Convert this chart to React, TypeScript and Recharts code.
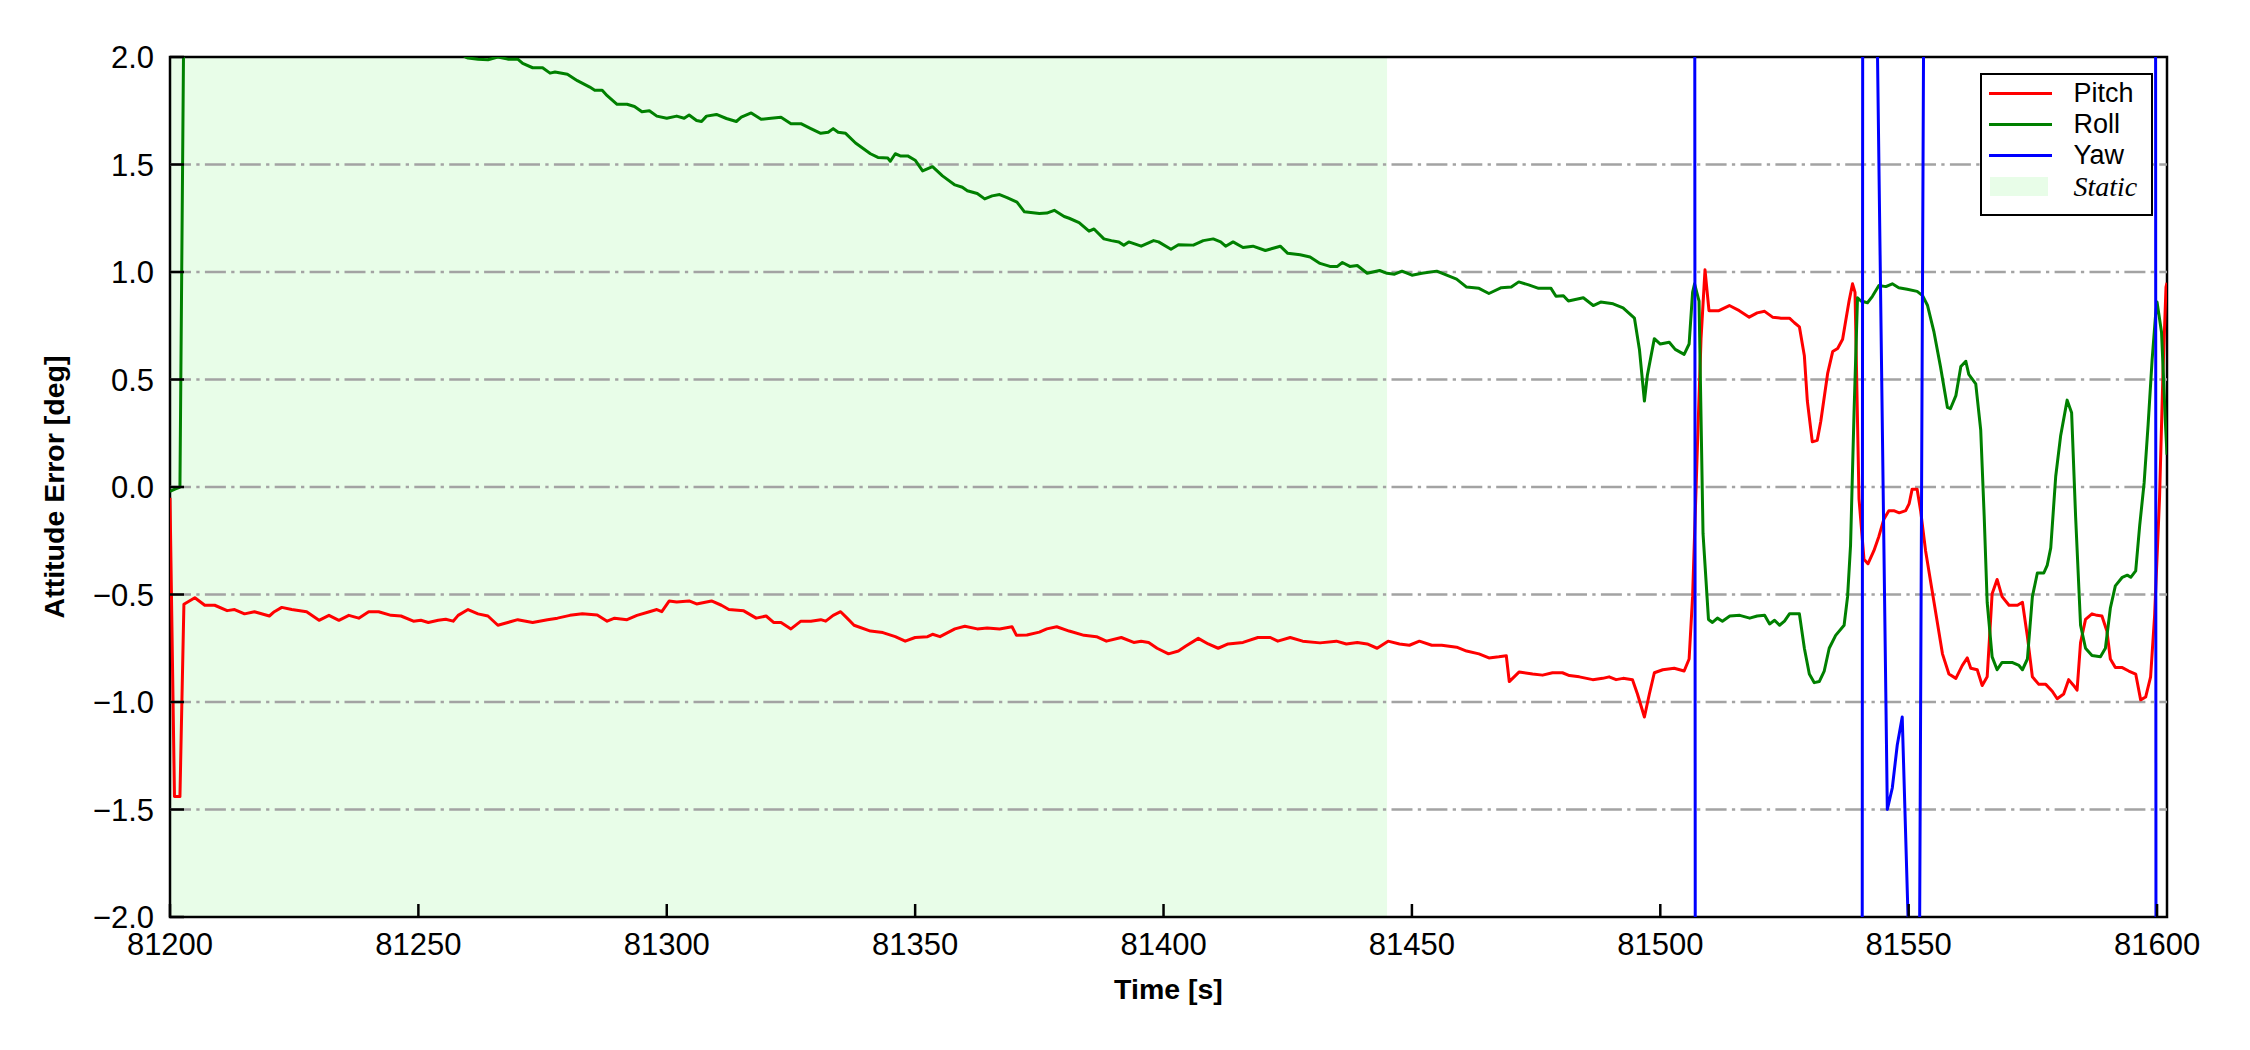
import React from "react";
import {
  LineChart,
  Line,
  XAxis,
  YAxis,
  ReferenceArea,
  Legend,
  Label,
} from "recharts";

// axis ticks and the static window
const timeTicks = [81200, 81250, 81300, 81350, 81400, 81450, 81500, 81550, 81600];
const errorTicks = [-2, -1.5, -1, -0.5, 0, 0.5, 1, 1.5, 2];
const gridLevels = [-1.5, -1, -0.5, 0, 0.5, 1, 1.5];
const timeRange = [81200, 81602];
const staticStart = 81200;
const staticEnd = 81445;

// Pitch error [deg]
const pitchT = [
  81200, 81200.9, 81202, 81202.8, 81205, 81207, 81209, 81211.5, 81213, 81215,
  81217, 81220, 81221, 81222.5, 81224.5, 81227.5, 81230, 81232, 81234, 81236,
  81238, 81240, 81242, 81244.5, 81246.5, 81249, 81250.5, 81252, 81254, 81255.5,
  81257, 81258, 81260, 81262, 81264, 81266, 81268, 81270, 81273, 81276,
  81278, 81280.5, 81283, 81286, 81288, 81289.5, 81292, 81294, 81296.5, 81298,
  81299, 81300.5, 81302, 81304.5, 81306, 81309, 81311, 81312.5, 81315.5, 81318,
  81320, 81321.5, 81323, 81325, 81327, 81329, 81331, 81332, 81333.5, 81335,
  81336.3, 81337.7, 81341, 81343.5, 81346, 81348, 81350, 81352.5, 81353.5, 81355,
  81358, 81360, 81362.5, 81364.5, 81367, 81369.5, 81370.4, 81372.5, 81375, 81376.5,
  81378.5, 81381, 81384, 81386.5, 81388.5, 81391.5, 81394, 81395.5, 81397, 81398.7,
  81401, 81403, 81404.5, 81407, 81409, 81411, 81413, 81416, 81419, 81421.5,
  81423, 81425.5, 81428, 81431.5, 81434.8, 81436.8, 81439, 81441, 81443, 81445.2,
  81447.5, 81449.5, 81451.5, 81454, 81456, 81459, 81461, 81463.5, 81465.5, 81467.5,
  81469, 81469.6, 81471.6, 81474.3, 81476.3, 81478.3, 81480.3, 81481.7, 81483.7, 81486.4,
  81488.4, 81489.7, 81491.1, 81492.5, 81494.4, 81495.4, 81496.8, 81497.8, 81498.8, 81500.5,
  81502.8, 81504.8, 81505.8, 81506.5, 81507.5, 81508.2, 81509, 81509.8, 81511.8, 81513.9,
  81515.9, 81517.9, 81519.5, 81521, 81522.6, 81524.3, 81526, 81527, 81528, 81529,
  81529.6, 81530.6, 81531.6, 81532.3, 81533.7, 81534.7, 81535.7, 81536.7, 81537.3, 81538,
  81538.7, 81539.2, 81540, 81541, 81541.8, 81543, 81544, 81545, 81546, 81547,
  81548.1, 81549.4, 81550.1, 81550.7, 81551.7, 81552.4, 81553.4, 81555.1, 81556.8, 81558.1,
  81559.5, 81560.8, 81561.8, 81562.5, 81563.8, 81564.8, 81565.8, 81566.8, 81567.8, 81568.8,
  81570.2, 81571.9, 81572.9, 81573.9, 81574.9, 81576.2, 81577.6, 81578.9, 81579.9, 81581.2,
  81582.2, 81583.2, 81583.9, 81584.6, 81585.6, 81586.9, 81587.9, 81588.9, 81589.9, 81590.6,
  81591.6, 81593, 81594.3, 81595.7, 81596.7, 81597.7, 81598.7, 81599.5, 81600.5, 81601.2,
  81601.8, 81602,
];
const pitchV = [
  -0.05, -1.44, -1.44, -0.545, -0.515, -0.55, -0.55, -0.575, -0.57, -0.59,
  -0.58, -0.6, -0.58, -0.56, -0.57, -0.58, -0.62, -0.597, -0.62, -0.597,
  -0.61, -0.58, -0.58, -0.597, -0.6, -0.624, -0.62, -0.63, -0.62, -0.615,
  -0.624, -0.597, -0.57, -0.59, -0.6, -0.643, -0.63, -0.617, -0.63, -0.617,
  -0.61, -0.597, -0.59, -0.595, -0.624, -0.61, -0.617, -0.597, -0.58, -0.57,
  -0.58, -0.53, -0.535, -0.53, -0.544, -0.53, -0.55, -0.57, -0.576, -0.61,
  -0.6, -0.63, -0.63, -0.66, -0.624, -0.624, -0.617, -0.624, -0.597, -0.58,
  -0.61, -0.643, -0.67, -0.677, -0.696, -0.717, -0.7, -0.696, -0.685, -0.696,
  -0.66, -0.648, -0.66, -0.656, -0.66, -0.65, -0.69, -0.688, -0.675, -0.66,
  -0.65, -0.67, -0.69, -0.696, -0.717, -0.7, -0.723, -0.717, -0.723, -0.75,
  -0.776, -0.763, -0.74, -0.704, -0.73, -0.75, -0.73, -0.723, -0.7, -0.7,
  -0.717, -0.7, -0.717, -0.725, -0.717, -0.73, -0.723, -0.73, -0.75, -0.717,
  -0.73, -0.736, -0.717, -0.736, -0.736, -0.745, -0.763, -0.776, -0.795, -0.79,
  -0.785, -0.905, -0.86, -0.87, -0.875, -0.864, -0.864, -0.877, -0.883, -0.896,
  -0.89, -0.883, -0.896, -0.89, -0.896, -0.963, -1.07, -0.963, -0.864, -0.85,
  -0.843, -0.856, -0.8, -0.51, 0.21, 0.69, 1.01, 0.82, 0.82, 0.844,
  0.82, 0.79, 0.81, 0.817, 0.79, 0.785, 0.785, 0.764, 0.745, 0.61,
  0.4, 0.21, 0.217, 0.305, 0.53, 0.63, 0.644, 0.687, 0.77, 0.865,
  0.945, 0.905, -0.055, -0.336, -0.357, -0.296, -0.23, -0.15, -0.11, -0.11,
  -0.12, -0.11, -0.077, -0.01, -0.01, -0.11, -0.296, -0.536, -0.776, -0.87,
  -0.89, -0.83, -0.795, -0.843, -0.85, -0.923, -0.883, -0.496, -0.43, -0.51,
  -0.55, -0.55, -0.536, -0.696, -0.883, -0.918, -0.918, -0.95, -0.985, -0.963,
  -0.896, -0.923, -0.945, -0.723, -0.616, -0.59, -0.597, -0.6, -0.67, -0.8,
  -0.84, -0.84, -0.856, -0.87, -0.99, -0.977, -0.883, -0.6, -0.05, 0.54,
  0.93, 0.95,
];

// Roll error [deg]
const rollT = [
  81200, 81201, 81202, 81203, 81215, 81230, 81245, 81255, 81259.5, 81260,
  81262, 81264, 81266, 81268, 81270, 81271, 81273, 81275, 81276.5, 81277.5,
  81280, 81282, 81284.5, 81285.5, 81287, 81288, 81290, 81292, 81293.5, 81295,
  81296.5, 81298, 81300, 81302, 81303.5, 81304.5, 81306, 81307, 81308, 81310,
  81312, 81314, 81315, 81317, 81319, 81321, 81323, 81325, 81327, 81329,
  81331, 81332.5, 81333.5, 81334.5, 81336, 81338, 81341, 81342.5, 81344.5, 81345,
  81346, 81347, 81348.5, 81350, 81351.5, 81353.5, 81355.5, 81358, 81359.5, 81360.5,
  81362.5, 81364, 81365.5, 81367, 81368.5, 81370.5, 81372, 81375, 81376.5, 81378,
  81380, 81381, 81383, 81385, 81386, 81388, 81389.5, 81391, 81392, 81393,
  81395.5, 81398, 81399, 81401.5, 81403, 81406, 81408, 81410, 81411.5, 81412.5,
  81414, 81416, 81418, 81420.5, 81423.5, 81425, 81427.5, 81429.5, 81431.5, 81433.5,
  81435, 81436, 81437.5, 81439, 81441, 81443.5, 81445, 81446.5, 81448, 81450,
  81452, 81455, 81457, 81459, 81461, 81463.5, 81465.5, 81468, 81470, 81471.5,
  81473.5, 81475.5, 81478, 81479, 81480.5, 81481.5, 81484.5, 81486.5, 81488, 81490.5,
  81492.5, 81494.8, 81495.8, 81496.8, 81497.4, 81498.8, 81500, 81501.8, 81503, 81504.8,
  81505.8, 81506.5, 81506.9, 81507.8, 81508.6, 81509.7, 81510.5, 81511.5, 81512.5, 81514,
  81516, 81518, 81519.5, 81521, 81522, 81523, 81524, 81525, 81526, 81528,
  81529, 81530, 81531, 81532, 81533, 81534, 81535.3, 81537, 81537.7, 81538.3,
  81539, 81539.7, 81540.4, 81541.7, 81542.7, 81544, 81545.4, 81546.7, 81548, 81549.7,
  81551.7, 81552.8, 81553.8, 81555.1, 81556.4, 81557.8, 81558.4, 81559.5, 81560.5, 81561.5,
  81562.1, 81563.5, 81564.5, 81565.2, 81565.8, 81566.8, 81567.8, 81568.8, 81570.8, 81572.2,
  81572.9, 81573.9, 81574.9, 81575.9, 81577.2, 81577.9, 81578.6, 81579.6, 81580.6, 81581.9,
  81582.8, 81583.6, 81584.6, 81585.6, 81586.9, 81588.6, 81589.6, 81590.6, 81591.6, 81593,
  81594, 81594.7, 81595.7, 81596.5, 81597.4, 81598.2, 81599, 81599.7, 81600, 81600.9,
  81601.7, 81602,
];
const rollV = [
  -0.02, -0.01, 0.0, 2.8, 2.45, 2.35, 2.2, 2.08, 2.0, 1.995,
  1.99, 1.987, 2.0, 1.99, 1.99, 1.97, 1.95, 1.95, 1.925, 1.93,
  1.92, 1.89, 1.86, 1.845, 1.845, 1.82, 1.78, 1.78, 1.77, 1.745,
  1.75, 1.725, 1.715, 1.725, 1.715, 1.73, 1.705, 1.7, 1.725, 1.733,
  1.714, 1.7, 1.72, 1.74, 1.71, 1.715, 1.72, 1.69, 1.69, 1.667,
  1.645, 1.65, 1.667, 1.65, 1.645, 1.6, 1.55, 1.533, 1.53, 1.515,
  1.55, 1.54, 1.54, 1.52, 1.47, 1.49, 1.447, 1.405, 1.394, 1.378,
  1.365, 1.34, 1.354, 1.36, 1.346, 1.325, 1.28, 1.272, 1.274, 1.287,
  1.258, 1.25, 1.23, 1.19, 1.2, 1.154, 1.146, 1.14, 1.124, 1.14,
  1.12, 1.146, 1.14, 1.106, 1.127, 1.125, 1.146, 1.154, 1.14, 1.12,
  1.14, 1.114, 1.12, 1.1, 1.12, 1.087, 1.08, 1.07, 1.04, 1.026,
  1.026, 1.044, 1.026, 1.03, 0.994, 1.007, 0.994, 0.99, 1.004, 0.985,
  0.994, 1.004, 0.985, 0.967, 0.93, 0.924, 0.9, 0.927, 0.93, 0.954,
  0.94, 0.924, 0.924, 0.887, 0.89, 0.865, 0.88, 0.844, 0.86, 0.852,
  0.833, 0.785, 0.64, 0.4, 0.52, 0.69, 0.665, 0.673, 0.64, 0.617,
  0.665, 0.905, 0.945, 0.865, -0.216, -0.616, -0.63, -0.61, -0.624, -0.6,
  -0.597, -0.61, -0.6, -0.597, -0.637, -0.62, -0.643, -0.624, -0.59, -0.59,
  -0.75, -0.87, -0.91, -0.905, -0.856, -0.75, -0.69, -0.643, -0.51, -0.27,
  0.345, 0.88, 0.865, 0.857, 0.887, 0.937, 0.932, 0.945, 0.927, 0.92,
  0.91, 0.89, 0.844, 0.72, 0.56, 0.37, 0.364, 0.425, 0.56, 0.585,
  0.524, 0.48, 0.265, -0.136, -0.536, -0.79, -0.85, -0.816, -0.816, -0.83,
  -0.85, -0.8, -0.51, -0.4, -0.4, -0.363, -0.283, 0.05, 0.24, 0.404,
  0.345, -0.136, -0.643, -0.75, -0.784, -0.79, -0.75, -0.563, -0.46, -0.42,
  -0.41, -0.42, -0.39, -0.18, 0.02, 0.29, 0.59, 0.8, 0.86, 0.72,
  0.29, 0.15,
];

// Yaw error [deg] (mostly far off the visible range)
const yawT = [
  81200, 81250, 81300, 81350, 81400, 81450, 81500, 81506.8, 81507.2, 81520,
  81540.5, 81540.9, 81543.7, 81545.7, 81546.7, 81547.7, 81548.7, 81550.5, 81552.1, 81553.1,
  81570, 81599.6, 81599.9, 81602,
];
const yawV = [
  12.4, 11.8, 11.1, 10.5, 9.8, 9.3, 8.7, 8.5, -9.6, -9.2,
  -8.8, 9.4, 2.05, -1.5, -1.4, -1.2, -1.07, -2.5, -2.6, 2.6,
  6.1, 8.0, -9.0, -9.0,
];

const seriesNames = ["Pitch", "Roll", "Yaw"];
const seriesColors = ["#ff0000", "#008000", "#0000ff"];
const staticLabel = "Static";

const pitchData = pitchT.map((t, i) => ({ t, v: pitchV[i] }));
const rollData = rollT.map((t, i) => ({ t, v: rollV[i] }));
const yawData = yawT.map((t, i) => ({ t, v: yawV[i] }));
// dash-dot grid drawn as flat lines so it sits above the static band
const gridData = gridLevels.map((lv) => timeRange.map((t) => ({ t, v: lv })));

const SANS = '"Liberation Sans", Arial, Helvetica, sans-serif';
const SERIF = '"Liberation Serif", "Times New Roman", serif';
// translucent band: reads as #e8fce8 on white, grid stays visible either way
const STATIC_FILL = "#00e600";
const STATIC_ALPHA = 0.09;
const GRID_GREY = "#a3a3a3";

const fmtError = (v: number) => (v < 0 ? "\u2212" : "") + Math.abs(v).toFixed(1);

function TimeTick(props: any) {
  const { x, y, payload } = props;
  return (
    <g>
      <line x1={x} y1={y} x2={x} y2={y - 13} stroke="#000" strokeWidth={2.5} />
      <text x={x} y={y + 38} textAnchor="middle" fontFamily={SANS} fontSize={31} fill="#000">
        {payload.value}
      </text>
    </g>
  );
}

function ErrorTick(props: any) {
  const { x, y, payload } = props;
  return (
    <g>
      <line x1={x} y1={y} x2={x + 14} y2={y} stroke="#000" strokeWidth={2.5} />
      <text x={x - 16} y={y} dy="0.36em" textAnchor="end" fontFamily={SANS} fontSize={31} fill="#000">
        {fmtError(payload.value)}
      </text>
    </g>
  );
}

function LegendBox() {
  const row = { position: "relative" as const, height: 31 };
  return (
    <div
      style={{
        boxSizing: "border-box",
        width: 173,
        height: 143,
        border: "2.5px solid #000",
        background: "#fff",
        paddingTop: 3,
      }}
    >
      {seriesNames.map((name, i) => (
        <div key={name} style={row}>
          <div
            style={{
              position: "absolute",
              left: 6.5,
              top: 13.5,
              width: 63,
              height: 3.5,
              background: seriesColors[i],
            }}
          />
          <div
            style={{
              position: "absolute",
              left: 91.5,
              top: 0,
              lineHeight: "31px",
              fontFamily: SANS,
              fontSize: 27,
              color: "#000",
            }}
          >
            {name}
          </div>
        </div>
      ))}
      <div style={row}>
        <div
          style={{
            position: "absolute",
            left: 8,
            top: 6,
            width: 58,
            height: 19,
            background: STATIC_FILL,
            opacity: STATIC_ALPHA,
          }}
        />
        <div
          style={{
            position: "absolute",
            left: 91.5,
            top: 0,
            lineHeight: "31px",
            fontFamily: SERIF,
            fontStyle: "italic",
            fontSize: 28,
            color: "#000",
          }}
        >
          {staticLabel}
        </div>
      </div>
    </div>
  );
}

export default function App() {
  return (
    <div style={{ position: "absolute", left: 0, top: 0, width: 2250, height: 1050, background: "#fff" }}>
      <LineChart width={2250} height={1050} margin={{ top: 57, right: 83, bottom: 0, left: 0 }}>
        <ReferenceArea
          x1={staticStart}
          x2={staticEnd}
          y1={-2}
          y2={2}
          fill={STATIC_FILL}
          fillOpacity={STATIC_ALPHA}
          stroke="none"
          ifOverflow="visible"
        />
        <XAxis
          type="number"
          dataKey="t"
          domain={timeRange}
          ticks={timeTicks}
          interval={0}
          allowDataOverflow
          height={133}
          axisLine={false}
          tickLine={false}
          tickSize={0}
          tickMargin={0}
          tick={<TimeTick />}
        >
          <Label
            value="Time [s]"
            position="insideTop"
            offset={62}
            fontFamily={SANS}
            fontSize={28.5}
            fontWeight="bold"
            fill="#000"
          />
        </XAxis>
        <YAxis
          type="number"
          domain={[-2, 2]}
          ticks={errorTicks}
          interval={0}
          allowDataOverflow
          width={170}
          axisLine={false}
          tickLine={false}
          tickSize={0}
          tickMargin={0}
          tick={<ErrorTick />}
        >
          <Label
            content={(p: any) => {
              const vb = p.viewBox || { x: 0, y: 57, width: 170, height: 860 };
              const cx = vb.x + 64;
              const cy = vb.y + vb.height / 2;
              return (
                <text
                  x={cx}
                  y={cy}
                  transform={`rotate(-90 ${cx} ${cy})`}
                  textAnchor="middle"
                  fontFamily={SANS}
                  fontSize={28.5}
                  fontWeight="bold"
                  fill="#000"
                >
                  Attitude Error [deg]
                </text>
              );
            }}
          />
        </YAxis>
        {gridData.map((d, i) => (
          <Line
            key={`grid-${i}`}
            data={d}
            dataKey="v"
            type="linear"
            stroke={GRID_GREY}
            strokeWidth={2.5}
            strokeDasharray="21 5.3 3.3 5.3"
            dot={false}
            activeDot={false}
            legendType="none"
            isAnimationActive={false}
          />
        ))}
        <Line
          data={pitchData}
          dataKey="v"
          name={seriesNames[0]}
          type="linear"
          stroke={seriesColors[0]}
          strokeWidth={3}
          strokeLinejoin="round"
          dot={false}
          activeDot={false}
          isAnimationActive={false}
        />
        <Line
          data={rollData}
          dataKey="v"
          name={seriesNames[1]}
          type="linear"
          stroke={seriesColors[1]}
          strokeWidth={3}
          strokeLinejoin="round"
          dot={false}
          activeDot={false}
          isAnimationActive={false}
        />
        <Line
          data={yawData}
          dataKey="v"
          name={seriesNames[2]}
          type="linear"
          stroke={seriesColors[2]}
          strokeWidth={3}
          strokeLinejoin="round"
          dot={false}
          activeDot={false}
          isAnimationActive={false}
        />
        <ReferenceArea
          x1={timeRange[0]}
          x2={timeRange[1]}
          y1={-2}
          y2={2}
          fill="none"
          stroke="#000"
          strokeWidth={2.5}
          ifOverflow="visible"
        />
        <Legend
          layout="vertical"
          align="center"
          verticalAlign="middle"
          wrapperStyle={{ left: 1980, top: 73, width: 173, height: 143 }}
          content={() => <LegendBox />}
        />
      </LineChart>
    </div>
  );
}
